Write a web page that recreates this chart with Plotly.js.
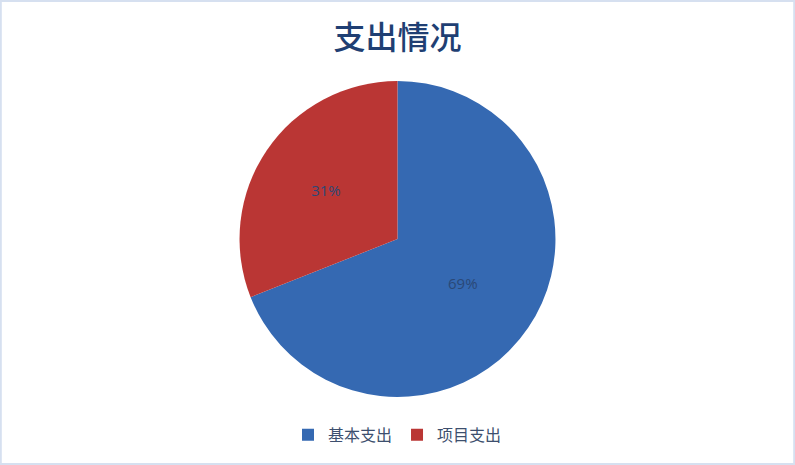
<!DOCTYPE html>
<html><head><meta charset="utf-8">
<script src="https://cdn.plot.ly/plotly-3.0.1.min.js"></script>
<style>
html,body{margin:0;padding:0;background:#fff;}
#chart{width:795px;height:465px;}
</style></head>
<body><div id="chart"></div>
<script>
const categories = ["基本支出", "项目支出"];
const shares = [69, 31];
const colors = ["#3569b2", "#ba3634"];

const trace = {
  type: "pie",
  labels: categories,
  values: shares,
  sort: false,
  direction: "clockwise",
  rotation: 0,
  marker: {colors: colors, line: {color: "#ffffff", width: 0}},
  textinfo: "percent",
  texttemplate: "%{percent:.0%}",
  textposition: "inside",
  insidetextfont: {family: "Open Sans, Noto Sans, sans-serif", size: 15, color: "#2a4877"},
  hoverinfo: "none",
  domain: {x: [0.3013, 0.6987], y: [0.1462, 0.8258]}
};

const layout = {
  width: 795, height: 465,
  margin: {l: 0, r: 0, t: 0, b: 0},
  paper_bgcolor: "#ffffff",
  title: {
    text: "支出情况",
    font: {family: "Noto Sans CJK SC, sans-serif", size: 32, color: "#1f3f73", weight: 500},
    x: 0.5, xanchor: "center", y: 0.918, yanchor: "middle"
  },
  showlegend: true,
  legend: {
    orientation: "h", x: 0.5, xanchor: "center", y: 0.065, yanchor: "middle",
    font: {family: "Noto Sans CJK SC, sans-serif", size: 16, color: "#3d4f6e"},
    itemwidth: 30, tracegroupgap: 0
  },
  shapes: [{
    type: "rect", xref: "paper", yref: "paper", x0: 0.001, x1: 0.999, y0: 0.002, y1: 0.998,
    line: {color: "#d6e0f0", width: 2}
  }]
};

Plotly.newPlot("chart", [trace], layout, {displayModeBar: false, staticPlot: true});
</script></body></html>
